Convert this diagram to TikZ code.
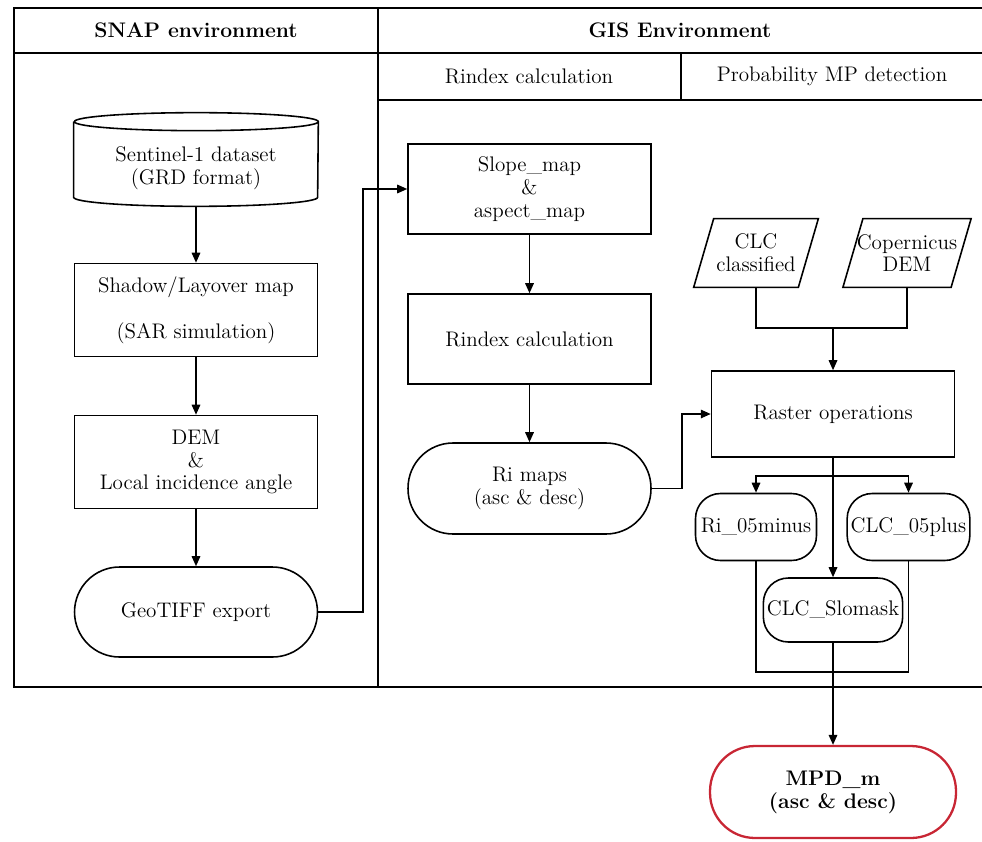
\documentclass[tikz,border=0pt]{standalone}
\usepackage{tikz}
\usetikzlibrary{positioning,arrows.meta,calc}
\usepackage{xcolor}
\definecolor{mpdred}{RGB}{200,38,52}

\begin{document}
\begin{tikzpicture}[x=0.02cm,y=-0.02cm,
  every node/.style={font=\fontsize{12}{13}\selectfont, align=center, inner sep=2pt},
  box/.style={draw, line width=0.9pt, minimum width=4.86cm, minimum height=1.8cm},
  term/.style={draw, line width=0.9pt, rounded corners=0.9cm, minimum width=4.86cm, minimum height=1.8cm},
  smallterm/.style={draw, line width=0.9pt, rounded corners=0.5cm, minimum width=2.42cm, minimum height=1.34cm},
  datain/.style={minimum width=2.08cm, minimum height=1.36cm},
  arr/.style={line width=0.9pt, -{Triangle[length=2mm,width=1.7mm]}},
  conn/.style={line width=0.9pt}]
\useasboundingbox (0,0) rectangle (982,841);
\draw[line width=1.1pt] (982,8) -- (14,8) -- (14,687) -- (982,687);
\draw[line width=1.1pt] (14,53) -- (982,53);
\draw[line width=1.1pt] (378,8) -- (378,687);
\draw[line width=1.1pt] (378,100) -- (982,100);
\draw[line width=1.1pt] (681,53) -- (681,100);
\node (snaphd) at (196,30) {\bfseries SNAP environment};
\node (gishd) at (680,30) {\bfseries GIS Environment};
\node (rihd) at (529,76) {Rindex calculation};
\node (probhd) at (832,76) {Probability MP detection};

\node[minimum width=4.88cm, minimum height=1.52cm] (sent) at (196,168) {Sentinel-1 dataset\\(GRD format)};
\draw[line width=0.9pt] ([yshift=0.16cm]sent.north west) -- ([yshift=0.18cm]sent.south west)
  arc[start angle=180, end angle=360, x radius=2.44cm, y radius=0.18cm]
  -- ([yshift=0.16cm]sent.north east)
  arc[start angle=0, end angle=360, x radius=2.44cm, y radius=0.18cm];
\node[box, minimum height=1.86cm] (shadow) at (196,310) {Shadow/Layover map\\[13pt](SAR simulation)};
\node[box, minimum height=1.86cm] (dem) at (196,462) {DEM\\\&\\Local incidence angle};
\node[term] (geotiff) at (196,612) {GeoTIFF export};

\node[box] (slope) at (529.5,189) {Slope\_map\\\&\\aspect\_map};
\node[box] (rindex) at (529.5,339) {Rindex calculation};
\node[term, minimum height=1.82cm] (rimaps) at (529.5,488.5) {Ri maps\\(asc \& desc)};

\node[datain] (clc) at (756,253) {CLC\\classified};
\draw[line width=0.9pt] ([xshift=-0.2cm]clc.south west) -- ([xshift=0.2cm]clc.north west)
  -- ([xshift=0.2cm]clc.north east) -- ([xshift=-0.2cm]clc.south east) -- cycle;
\node[datain] (cop) at (907,253) {Copernicus\\DEM};
\draw[line width=0.9pt] ([xshift=-0.2cm]cop.south west) -- ([xshift=0.2cm]cop.north west)
  -- ([xshift=0.2cm]cop.north east) -- ([xshift=-0.2cm]cop.south east) -- cycle;
\node[box, minimum height=1.72cm] (raster) at (833,414) {Raster operations};
\node[smallterm] (rminus) at (756,527) {Ri\_05minus};
\node[smallterm] (cplus) at (908.5,527) {CLC\_05plus};
\node[smallterm, minimum width=2.4cm, minimum height=1.28cm] (slomask) at (833,610) {CLC\_Slomask};
\node[term, draw=mpdred, line width=1.3pt, minimum width=4.92cm, minimum height=1.84cm] (mpd) at (833,792) {\bfseries MPD\_m\\\bfseries (asc \& desc)};

\coordinate (join) at (833,328);
\coordinate (split) at (833,476);
\coordinate (merge) at (833,672);

\draw[arr] (sent.south) -- (shadow.north);
\draw[arr] (shadow.south) -- (dem.north);
\draw[arr] (dem.south) -- (geotiff.north);
\draw[arr] (geotiff.east) -- ++(0.9cm,0) |- (slope.west);
\draw[arr] (slope.south) -- (rindex.north);
\draw[arr] (rindex.south) -- (rimaps.north);
\draw[arr] (rimaps.east) -- ++(0.6cm,0) |- (raster.west);
\draw[conn] (clc.south) |- (join) -| (cop.south);
\draw[arr] (join) -- (raster.north);
\draw[arr] (raster.south) -- (slomask.north);
\draw[arr] (split) -| (rminus.north);
\draw[arr] (split) -| (cplus.north);
\draw[conn] (rminus.south) |- (merge) -| (cplus.south);
\draw[arr] (slomask.south) -- (mpd.north);
\end{tikzpicture}
\end{document}
